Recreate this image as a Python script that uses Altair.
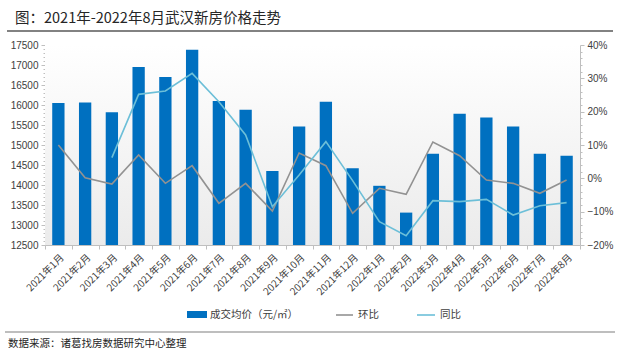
import altair as alt
import pandas as pd

months = ["2021年1月", "2021年2月", "2021年3月", "2021年4月", "2021年5月", "2021年6月",
          "2021年7月", "2021年8月", "2021年9月", "2021年10月", "2021年11月", "2021年12月",
          "2022年1月", "2022年2月", "2022年3月", "2022年4月", "2022年5月", "2022年6月",
          "2022年7月", "2022年8月"]
price = [16050, 16060, 15820, 16950, 16700, 17380, 16100, 15880, 14350, 15460,
         16080, 14420, 13980, 13310, 14780, 15780, 15690, 15460, 14780, 14730]
mom = [10.0, 0.2, -1.7, 7.0, -1.5, 3.8, -7.5, -1.5, -9.8, 7.6,
       3.8, -10.5, -3.0, -4.8, 10.9, 6.8, -0.5, -1.5, -4.5, -0.5]
yoy = [None, None, 6.2, 25.2, 26.2, 31.5, 23.0, 13.0, -8.5, 1.0,
       11.0, -0.7, -13.0, -17.2, -6.7, -7.0, -6.3, -11.0, -8.2, -7.3]

series_names = ["环比", "同比"]
series_colors = ["#929292", "#6cbfd8"]
bar_name = "成交均价（元/㎡）"
title_text = "图：2021年-2022年8月武汉新房价格走势"
source_text = "数据来源：诸葛找房数据研究中心整理"

CJK = "Noto Sans CJK SC"
NUM = "Liberation Sans"
W, H = 535, 200

bars_df = pd.DataFrame({"month": months, "price": price})
rows = []
for m, a, b in zip(months, mom, yoy):
    rows.append({"month": m, "series": "环比", "pct": a / 100})
    if b is not None:
        rows.append({"month": m, "series": "同比", "pct": b / 100})
lines_df = pd.DataFrame(rows)
one = pd.DataFrame({"k": [0]})

xenc = alt.X("month:N", sort=months, title=None,
             scale=alt.Scale(paddingInner=0, paddingOuter=0),
             axis=alt.Axis(labelAngle=315, tickBand="extent", tickSize=4,
                           domainColor="#bfbfbf", tickColor="#bfbfbf",
                           labelFont=CJK, labelFontSize=10, labelColor="#404040",
                           labelPadding=3, grid=False))

bg = alt.Chart(one).mark_rect(
    color=alt.Gradient(gradient="linear",
                       stops=[alt.GradientStop(color="#ffffff", offset=0),
                              alt.GradientStop(color="#ebebeb", offset=1)],
                       x1=0, x2=0, y1=0, y2=1)
).encode(x=alt.value(0), x2=alt.value(W), y=alt.value(0), y2=alt.value(H))

left_vals = list(range(12500, 17501, 100))
bars = alt.Chart(bars_df).mark_bar(color="#0070c0", width={"band": 0.46}).encode(
    x=xenc,
    y=alt.Y("price:Q", title=None,
            scale=alt.Scale(domain=[12500, 17500], zero=False, nice=False),
            axis=alt.Axis(orient="left", values=left_vals, grid=False,
                          labelExpr="datum.value % 500 === 0 ? datum.label : ''",
                          labelOverlap=False, format="d",
                          tickSize={"condition": {"test": "datum.value % 500 === 0", "value": 4}, "value": 2},
                          domainColor="#bfbfbf", tickColor="#bfbfbf",
                          labelFont=NUM, labelFontSize=10, labelColor="#404040", labelPadding=3)),
    y2=alt.Y2(datum=12500),
)

right_vals = [v / 100 for v in range(-20, 41, 2)]
lines = alt.Chart(lines_df).mark_line(strokeWidth=1.6).encode(
    x=alt.X("month:N", sort=months),
    y=alt.Y("pct:Q", title=None,
            scale=alt.Scale(domain=[-0.2, 0.4], nice=False),
            axis=alt.Axis(orient="right", values=right_vals, grid=False, format=".0%",
                          labelExpr="round(datum.value*100) % 10 === 0 ? datum.label : ''",
                          labelOverlap=False,
                          tickSize={"condition": {"test": "round(datum.value*100) % 10 === 0", "value": 4}, "value": 2},
                          domainColor="#bfbfbf", tickColor="#bfbfbf",
                          labelFont=NUM, labelFontSize=10, labelColor="#404040", labelPadding=3)),
    color=alt.Color("series:N", scale=alt.Scale(domain=series_names, range=series_colors), legend=None),
    detail="series:N",
)

title = alt.Chart(one).mark_text(text=title_text, font=CJK, fontSize=14.5, align="left",
                                 baseline="middle", color="#262626").encode(
    x=alt.value(-30), y=alt.value(-26))
title_line = alt.Chart(one).mark_rule(color="#595959", strokeWidth=1.5).encode(
    x=alt.value(-38), x2=alt.value(568), y=alt.value(-14))
foot_line = alt.Chart(one).mark_rule(color="#7f7f7f", strokeWidth=1.2).encode(
    x=alt.value(-40), x2=alt.value(570), y=alt.value(287))
source = alt.Chart(one).mark_text(text=source_text, font=CJK, fontSize=10.5, align="left",
                                  baseline="middle", color="#262626").encode(
    x=alt.value(-37), y=alt.value(299))

leg_rect = alt.Chart(one).mark_rect(color="#0070c0").encode(
    x=alt.value(142), x2=alt.value(162), y=alt.value(266), y2=alt.value(273))
leg_t1 = alt.Chart(one).mark_text(text=bar_name, font=CJK, fontSize=10.5, align="left",
                                  baseline="middle", color="#404040").encode(
    x=alt.value(165), y=alt.value(270))
leg_l1 = alt.Chart(one).mark_rule(color=series_colors[0], strokeWidth=1.6).encode(
    x=alt.value(291), x2=alt.value(308), y=alt.value(270))
leg_t2 = alt.Chart(one).mark_text(text=series_names[0], font=CJK, fontSize=10.5, align="left",
                                  baseline="middle", color="#404040").encode(
    x=alt.value(313), y=alt.value(270))
leg_l2 = alt.Chart(one).mark_rule(color=series_colors[1], strokeWidth=1.6).encode(
    x=alt.value(372), x2=alt.value(390), y=alt.value(270))
leg_t3 = alt.Chart(one).mark_text(text=series_names[1], font=CJK, fontSize=10.5, align="left",
                                  baseline="middle", color="#404040").encode(
    x=alt.value(395), y=alt.value(270))

chart = alt.layer(
    bg, bars, lines, title, title_line, foot_line, source,
    leg_rect, leg_t1, leg_l1, leg_t2, leg_l2, leg_t3
).resolve_scale(y="independent").properties(
    width=W, height=H,
    autosize=alt.AutoSizeParams(type="none"),
    padding={"left": 45, "top": 45, "right": 50, "bottom": 111},
    background="white",
).configure_view(stroke=None)

chart.save("out.html", embed_options={"renderer": "svg", "actions": False})
